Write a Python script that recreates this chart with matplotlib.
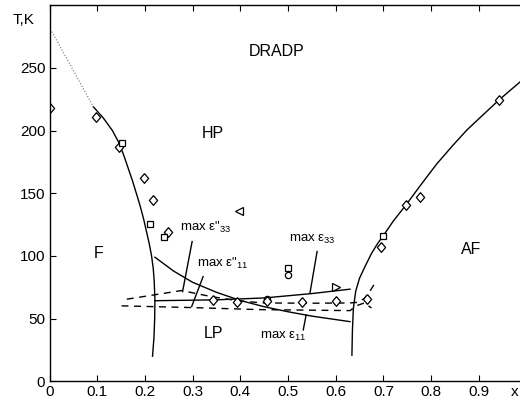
import matplotlib
matplotlib.use("Agg")
import matplotlib.pyplot as plt
import numpy as np

plt.rcParams['font.family'] = ['Liberation Sans', 'DejaVu Sans']
plt.rcParams['mathtext.fontset'] = 'custom'
plt.rcParams['mathtext.rm'] = 'Liberation Sans'

# phase boundaries (x, T)
left_x = [0.092, 0.113, 0.132, 0.146, 0.156, 0.165, 0.174, 0.182, 0.190, 0.197, 0.203,
          0.209, 0.214, 0.2175, 0.2195, 0.221, 0.2205, 0.219, 0.216]
left_T = [219, 210, 200, 190, 180, 170, 160, 150, 140, 130, 120,
          110, 100, 90, 80, 65, 50, 35, 20]
left_dot_x = [0.005, 0.092]
left_dot_T = [279, 219]

right_x = [0.634, 0.635, 0.637, 0.642, 0.650, 0.662, 0.675, 0.688, 0.700, 0.721, 0.747,
           0.777, 0.812, 0.845, 0.875, 0.910, 0.943, 0.990]
right_T = [20.8, 40, 58, 72, 82.3, 92, 102, 110, 116.3, 128, 140.5,
           156, 173.5, 188, 200.5, 213, 224.7, 240]

# max eps_11 (solid, falling) and max eps_33 (solid, flat)
e11_x = [0.221, 0.26, 0.30, 0.35, 0.40, 0.45, 0.50, 0.55, 0.63]
e11_T = [99, 88, 79, 71, 64.5, 59.5, 55.5, 52, 47.6]
e33_x = [0.221, 0.35, 0.45, 0.55, 0.63]
e33_T = [64.3, 65, 66.5, 70, 73.5]

# max eps''_33 and eps''_11 (dashed)
d33_x = [0.162, 0.22, 0.277, 0.34, 0.40, 0.45, 0.55, 0.63, 0.645, 0.66, 0.672, 0.68]
d33_T = [65.5, 69, 72.4, 67.5, 64, 62.5, 62.3, 62.5, 63, 66, 72, 77]
d11_x = [0.151, 0.30, 0.44, 0.63, 0.645, 0.66, 0.675]
d11_T = [60.2, 58.8, 57.2, 56.4, 60.5, 62.5, 58.5]

# measured points
dia_x = [0.0, 0.0975, 0.146, 0.198, 0.216, 0.249, 0.343, 0.394, 0.455, 0.53, 0.60, 0.666, 0.695, 0.747, 0.777, 0.943]
dia_T = [218, 211, 187, 162, 145, 119, 65, 63.6, 64.4, 63.1, 64.4, 65.5, 107.5, 140.8, 147.4, 224.7]
sq_x = [0.151, 0.211, 0.241, 0.50, 0.70]
sq_T = [190, 125.4, 115.5, 90.5, 116.3]
circ_x = [0.455, 0.50]
circ_T = [65.6, 85]
tl_x = [0.398]
tl_T = [135.5]
tr_x = [0.601]
tr_T = [75]

diamond = [(0, 1), (0.85, 0), (0, -1), (-0.85, 0), (0, 1)]

fig = plt.figure(figsize=(5.2, 4.01), dpi=100)
ax = fig.add_axes([49.5/520, 19.7/401, 477/520, 376/401])

ax.plot(left_x, left_T, 'k-', lw=1)
ax.plot(left_dot_x, left_dot_T, ':', lw=0.8, color='0.45')
ax.plot(right_x, right_T, 'k-', lw=1)
ax.plot(e11_x, e11_T, 'k-', lw=1)
ax.plot(e33_x, e33_T, 'k-', lw=1)
ax.plot(d33_x, d33_T, 'k--', lw=1, dashes=(5, 4))
ax.plot(d11_x, d11_T, 'k--', lw=1, dashes=(5, 4))

mk = dict(ls='none', mfc='white', mec='k', mew=0.9)
ax.plot(circ_x, circ_T, marker='o', ms=4.5, **mk)
ax.plot(dia_x, dia_T, marker=diamond, ms=7, **mk)
ax.plot(sq_x, sq_T, marker='s', ms=4.3, **mk)
ax.plot(tl_x, tl_T, marker='<', ms=5.5, **mk)
ax.plot(tr_x, tr_T, marker='>', ms=5.5, **mk)

# leaders
ax.plot([0.299, 0.279], [111.5, 71.6], 'k-', lw=1)
ax.plot([0.322, 0.298], [83.5, 59.6], 'k-', lw=1)
ax.plot([0.561, 0.546], [103.5, 70.3], 'k-', lw=1)
ax.plot([0.538, 0.532], [53, 41], 'k-', lw=1)

fs = 9.5
ax.text(0.274, 122.5, 'max ε"$_{\\mathregular{33}}$', fontsize=fs, va='center')
ax.text(0.309, 94.2, 'max ε"$_{\\mathregular{11}}$', fontsize=fs, va='center')
ax.text(0.503, 112.9, 'max ε$_{\\mathregular{33}}$', fontsize=fs, va='center')
ax.text(0.441, 35.6, 'max ε$_{\\mathregular{11}}$', fontsize=fs, va='center')

rf = 11.5
ax.text(0.477, 263.3, 'DRADP', fontsize=rf, ha='center', va='center')
ax.text(0.343, 198, 'HP', fontsize=rf, ha='center', va='center')
ax.text(0.102, 102.2, 'F', fontsize=rf, ha='center', va='center')
ax.text(0.343, 38.3, 'LP', fontsize=rf, ha='center', va='center')
ax.text(0.885, 104.9, 'AF', fontsize=rf, ha='center', va='center')

ax.set_xlim(0, 1.0)
ax.set_ylim(0, 300)
ax.set_xticks(np.arange(0, 1.0, 0.1))
ax.set_xticklabels(['0', '0.1', '0.2', '0.3', '0.4', '0.5', '0.6', '0.7', '0.8', '0.9'])
ax.set_yticks([0, 50, 100, 150, 200, 250])
ax.tick_params(direction='in', top=True, right=False, labelsize=11, length=4, pad=3)
for s in ax.spines.values():
    s.set_linewidth(1)
ax.spines['right'].set_visible(False)

fig.text(24/520, 1 - 20/401, 'T,K', fontsize=11, ha='center', va='center')
fig.text(515/520, 1 - 392/401, 'x', fontsize=11, ha='center', va='center')

fig.savefig('out.png', dpi=100)
